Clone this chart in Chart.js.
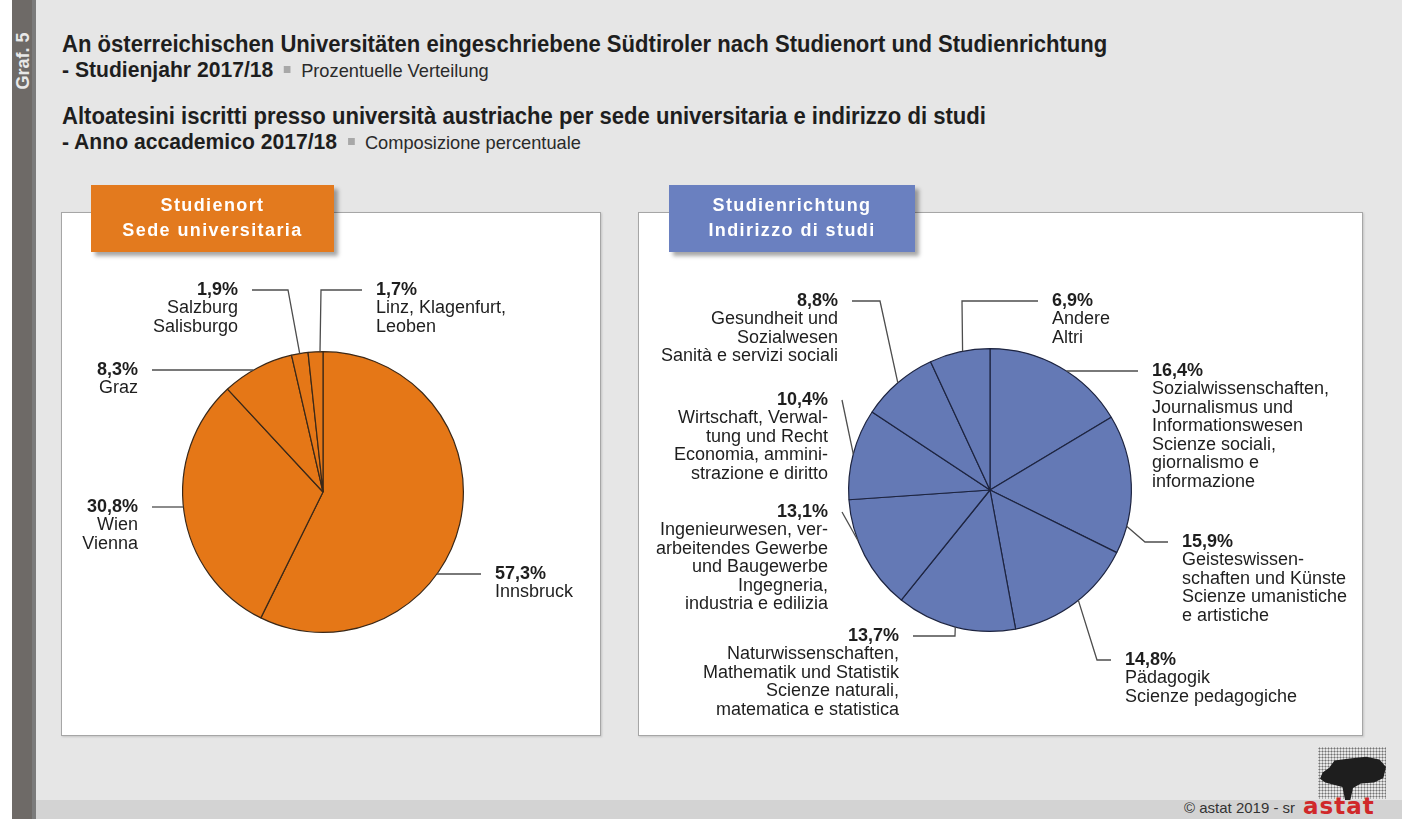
<!DOCTYPE html>
<html>
<head>
<meta charset="utf-8">
<script src="https://cdn.jsdelivr.net/npm/chart.js@4.4.1/dist/chart.umd.min.js"></script>
<style>
  body { margin: 0; width: 1402px; height: 819px; overflow: hidden; background: #e6e6e6;
         font-family: "Liberation Sans", Arial, sans-serif; position: relative; color: #1e1e1e; }
  .strip { position: absolute; left: 12px; top: 0; width: 20px; height: 819px; background: #6e6a67; }
  .strip2 { position: absolute; left: 32px; top: 0; width: 4px; height: 819px; background: #7b7b7b; }
  .white { position: absolute; left: 0; top: 0; width: 12px; height: 819px; background: #fff; }
  .graf { position: absolute; left: 23px; top: 61px; transform: translate(-50%, -50%) rotate(-90deg);
          color: #e8e8e8; font-weight: bold; font-size: 18px; white-space: nowrap; }
  .foot { position: absolute; left: 36px; top: 800px; width: 1366px; height: 19px; background: #d3d3d3; }
  .title { position: absolute; left: 62px; white-space: nowrap; font-size: 23px; font-weight: bold;
           transform: scaleX(0.96); transform-origin: left center; line-height: 25px; }
  .title.small { font-size: 22px; }
  .title .sub { font-weight: normal; font-size: 19px; color: #2a2a2a; }
  .title .sq { display: inline-block; width: 7px; height: 7px; background: #a8a8a8; margin: 0 11px 4px 11px; vertical-align: middle; }
  .panel { position: absolute; top: 212px; height: 522px; background: #fff; border: 1px solid #a6a6a6;
           box-shadow: 1px 1px 2px rgba(0,0,0,0.15); }
  .head { position: absolute; top: 185px; height: 67px; color: #fff; font-weight: bold; font-size: 18px;
          letter-spacing: 1.4px; text-align: center; line-height: 25px; box-sizing: border-box; padding-top: 8px;
          box-shadow: 4px 4px 4px rgba(0,0,0,0.35); z-index: 3; }
  canvas { position: absolute; z-index: 2; }
  .copy { position: absolute; left: 1184px; top: 799px; font-size: 15px; color: #333; white-space: nowrap; }
  .brand { position: absolute; left: 1303px; top: 793px; font-size: 23px; font-weight: bold; color: #d0282a;
           letter-spacing: 1px; font-family: "DejaVu Sans", sans-serif; }
  .dots { position: absolute; left: 1318px; top: 747px; width: 68px; height: 52px;
          background-image: radial-gradient(circle, #555 0.8px, transparent 1.2px); background-size: 3px 3px; opacity: 0.8; }
  .map { position: absolute; left: 1320px; top: 754px; width: 66px; height: 46px; background: #1e1e1e;
         clip-path: polygon(4% 40%, 14% 30%, 22% 14%, 45% 10%, 70% 6%, 90% 12%, 100% 28%, 96% 52%, 82% 62%,
                            62% 64%, 50% 74%, 46% 100%, 38% 100%, 34% 72%, 18% 66%, 8% 62%, 0% 54%); }
</style>
</head>
<body>
<div class="white"></div>
<div class="strip"></div>
<div class="strip2"></div>
<div class="graf">Graf. 5</div>
<div class="foot"></div>

<div class="title" style="top:32px">An österreichischen Universitäten eingeschriebene Südtiroler nach Studienort und Studienrichtung</div>
<div class="title small" style="top:57px">- Studienjahr 2017/18<span class="sq"></span><span class="sub">Prozentuelle Verteilung</span></div>
<div class="title" style="top:104px">Altoatesini iscritti presso università austriache per sede universitaria e indirizzo di studi</div>
<div class="title small" style="top:129px">- Anno accademico 2017/18<span class="sq"></span><span class="sub">Composizione percentuale</span></div>

<div class="panel" style="left:61px;width:538px"></div>
<div class="panel" style="left:638px;width:723px"></div>
<div class="head" style="left:91px;width:243px;background:#e37a1e">Studienort<br>Sede universitaria</div>
<div class="head" style="left:669px;width:246px;background:#6a80c0">Studienrichtung<br>Indirizzo di studi</div>

<canvas id="placeChart" width="539" height="523" style="left:61px;top:212px"></canvas>
<canvas id="fieldChart" width="724" height="523" style="left:638px;top:212px"></canvas>

<div class="dots"></div>
<div class="map"></div>
<div class="copy">© astat 2019 - sr</div>
<div class="brand">astat</div>

<script>
// Studienort / Sede universitaria
const placeNames = [
    ['Innsbruck'],
    ['Wien', 'Vienna'],
    ['Graz'],
    ['Salzburg', 'Salisburgo'],
    ['Linz, Klagenfurt,', 'Leoben']
];
const placeShares = [57.3, 30.8, 8.3, 1.9, 1.7];

// Studienrichtung / Indirizzo di studi
const fieldNames = [
    ['Sozialwissenschaften,', 'Journalismus und', 'Informationswesen', 'Scienze sociali,', 'giornalismo e', 'informazione'],
    ['Geisteswissen-', 'schaften und Künste', 'Scienze umanistiche', 'e artistiche'],
    ['Pädagogik', 'Scienze pedagogiche'],
    ['Naturwissenschaften,', 'Mathematik und Statistik', 'Scienze naturali,', 'matematica e statistica'],
    ['Ingenieurwesen, ver-', 'arbeitendes Gewerbe', 'und Baugewerbe', 'Ingegneria,', 'industria e edilizia'],
    ['Wirtschaft, Verwal-', 'tung und Recht', 'Economia, ammini-', 'strazione e diritto'],
    ['Gesundheit und', 'Sozialwesen', 'Sanità e servizi sociali'],
    ['Andere', 'Altri']
];
const fieldShares = [16.4, 15.9, 14.8, 13.7, 13.1, 10.4, 8.8, 6.9];

// where each callout text sits, relative to the pie centre
// ex = x of the elbow, frac = where on the slice the line touches; no ex -> straight horizontal line
const placeCallouts = [
    { align: 'left',  dx: 172,  dy: 82 },
    { align: 'right', dx: -185, dy: 15 },
    { align: 'right', dx: -185, dy: -122 },
    { align: 'right', dx: -85,  dy: -202, ex: -35, frac: 0.5 },
    { align: 'left',  dx: 53,   dy: -202, ex: -2,  frac: 0.8 }
];
const fieldCallouts = [
    { align: 'left',  dx: 162,  dy: -119 },
    { align: 'left',  dx: 192,  dy: 52,   ex: 155,  frac: 0.8 },
    { align: 'left',  dx: 135,  dy: 170,  ex: 107,  frac: 0.47 },
    { align: 'right', dx: -91,  dy: 146,  ex: -35,  frac: 0.5 },
    { align: 'right', dx: -162, dy: 22,   ex: -148, frac: 0.64 },
    { align: 'right', dx: -162, dy: -90,  ex: -148, frac: 0.5 },
    { align: 'right', dx: -152, dy: -189, ex: -110, frac: 0.5 },
    { align: 'left',  dx: 62,   dy: -189, ex: -28,  frac: 0.55 }
];

function pct(v) {
    return v.toFixed(1).replace('.', ',') + '%';
}

const calloutPlugin = {
    id: 'callouts',
    afterDatasetsDraw(chart, args, opts) {
        const ctx = chart.ctx;
        const arcs = chart.getDatasetMeta(0).data;
        const values = chart.data.datasets[0].data;
        const gap = 14, lineH = 18.5;
        ctx.save();
        arcs.forEach((arc, i) => {
            const c = opts.layout[i];
            const p = arc.getProps(['x', 'y', 'startAngle', 'endAngle', 'outerRadius'], true);
            const R = p.outerRadius;
            const tx = p.x + c.dx, ty = p.y + c.dy;
            const pts = [[tx + (c.align === 'left' ? -gap : gap), ty]];
            if (c.ex === undefined) {
                const side = c.align === 'left' ? 1 : -1;
                pts.push([p.x + side * Math.sqrt(R * R - c.dy * c.dy), ty]);
            } else {
                pts.push([p.x + c.ex, ty]);
                const a = p.startAngle + c.frac * (p.endAngle - p.startAngle);
                pts.push([p.x + Math.cos(a) * R, p.y + Math.sin(a) * R]);
            }
            ctx.strokeStyle = '#4d4d4d';
            ctx.lineWidth = 1.3;
            ctx.beginPath();
            pts.forEach((q, k) => k ? ctx.lineTo(q[0], q[1]) : ctx.moveTo(q[0], q[1]));
            ctx.stroke();

            ctx.fillStyle = '#1e1e1e';
            ctx.textAlign = c.align;
            ctx.textBaseline = 'middle';
            ctx.font = 'bold 18px "Liberation Sans", Arial';
            ctx.fillText(pct(values[i]), tx, ty);
            ctx.font = '18px "Liberation Sans", Arial';
            opts.names[i].forEach((t, k) => ctx.fillText(t, tx, ty + (k + 1) * lineH));
        });
        ctx.restore();
    }
};

function pieConfig(values, names, layout, fill, edge, padding) {
    return {
        type: 'pie',
        data: {
            labels: names.map(n => n.join(' ')),
            datasets: [{
                data: values,
                backgroundColor: fill,
                borderColor: edge,
                borderWidth: 1.2
            }]
        },
        options: {
            responsive: false,
            animation: false,
            layout: { padding: padding },
            plugins: {
                legend: { display: false },
                tooltip: { enabled: false },
                callouts: { layout: layout, names: names }
            }
        },
        plugins: [calloutPlugin]
    };
}

var placeChart = new Chart(document.getElementById('placeChart'),
    pieConfig(placeShares, placeNames, placeCallouts, '#e57717', '#3a2818',
              { left: 121, right: 136, top: 139, bottom: 102 }));

var fieldChart = new Chart(document.getElementById('fieldChart'),
    pieConfig(fieldShares, fieldNames, fieldCallouts, '#6479b5', '#1d2440',
              { left: 210, right: 230, top: 136, bottom: 103 }));
</script>
</body>
</html>
